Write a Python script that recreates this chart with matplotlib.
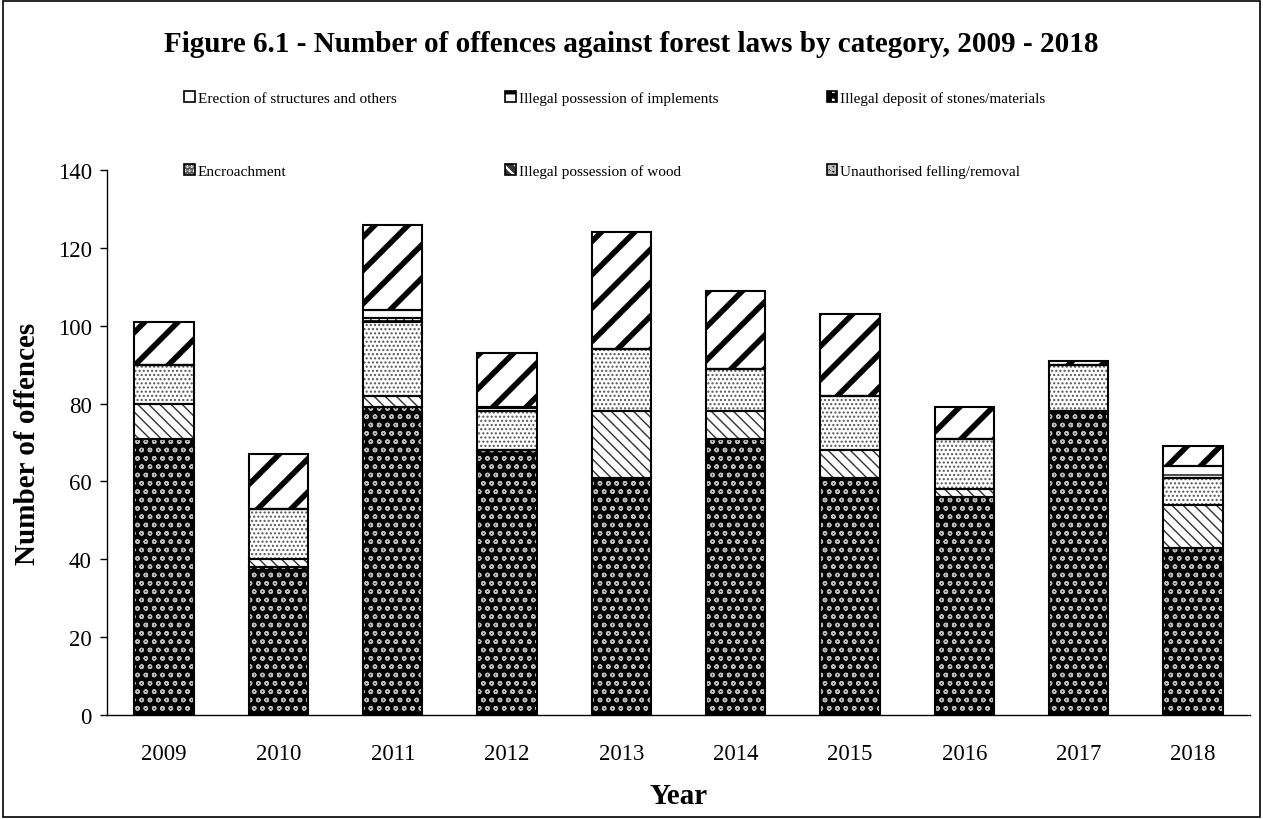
import numpy as np
import matplotlib
matplotlib.use("Agg")
import matplotlib.pyplot as plt
from matplotlib.patches import Rectangle, Patch

plt.rcParams['font.family'] = ['Liberation Serif', 'DejaVu Serif']

years = ['2009', '2010', '2011', '2012', '2013', '2014', '2015', '2016', '2017', '2018']

# stacking order bottom -> top
felling = [71, 38, 79, 68, 61, 71, 61, 56, 78, 43]
wood = [9, 2, 3, 0, 17, 7, 7, 2, 0, 11]
encroachment = [10, 13, 19, 10, 16, 11, 14, 13, 12, 7]
deposit = [0, 0, 1, 0, 0, 0, 0, 0, 0, 0]
implements = [0, 0, 2, 1, 0, 0, 0, 0, 0, 3]
erection = [11, 14, 22, 14, 30, 20, 21, 8, 1, 5]

labels = {
    'felling': 'Unauthorised felling/removal',
    'wood': 'Illegal possession of wood',
    'enc': 'Encroachment',
    'deposit': 'Illegal deposit of stones/materials',
    'impl': 'Illegal possession of implements',
    'erect': 'Erection of structures and others',
}

fig = plt.figure(figsize=(12.63, 8.2), dpi=100)
ax = fig.add_axes([107 / 1263, 1 - 716 / 820, (1250 - 107) / 1263, (716 - 171) / 820])

x = np.arange(len(years))
w = 0.52

# key, values, face, hatch colour, hatch, hatch linewidth
series = [
    ('felling', felling, 'black', '#bbbbbb', 'oo', 1.0),
    ('wood', wood, 'white', '#333333', '\\\\\\', 1.0),
    ('enc', encroachment, 'white', '#555555', '....', 1.0),
    ('deposit', deposit, 'white', 'black', '++', 1.0),
    ('impl', implements, 'white', 'black', '-', 1.0),
    ('erect', erection, 'white', 'black', '/', 4.0),
]

handles = {}
bottom = np.zeros(len(years))
for key, vals, face, hcol, hatch, hlw in series:
    vals = np.array(vals, dtype=float)
    plt.rcParams['hatch.linewidth'] = hlw
    bars = ax.bar(x, vals, w, bottom=bottom, color=face, edgecolor=hcol,
                  hatch=hatch, linewidth=0, zorder=2)
    for b in bars:
        try:
            b.set_hatch_linewidth(hlw)
        except AttributeError:
            pass
    ax.bar(x, vals, w, bottom=bottom, fill=False, edgecolor='black',
           linewidth=1.5, zorder=3)
    h = Patch(facecolor=face, edgecolor='black', hatch=hatch, linewidth=1.2)
    try:
        h.set_hatch_linewidth(min(hlw, 1.5))
    except AttributeError:
        pass
    h._hatch_color = matplotlib.colors.to_rgba(hcol)
    handles[key] = h
    bottom += vals

ax.set_ylim(0, 140)
ax.set_xlim(-0.5, len(years) - 0.5)
ax.set_yticks(range(0, 141, 20))
ax.set_xticks(x)
ax.set_xticklabels(years)
ax.tick_params(axis='both', labelsize=16.5, direction='out', length=5, width=1)
ax.tick_params(axis='y', pad=6)
ax.tick_params(axis='x', length=0, pad=20)
for s in ['top', 'right']:
    ax.spines[s].set_visible(False)
for s in ['left', 'bottom']:
    ax.spines[s].set_linewidth(1.0)

ax.set_ylabel('Number of offences', fontsize=21, fontweight='bold', labelpad=12)
ax.set_xlabel('Year', fontsize=21, fontweight='bold', labelpad=13)

fig.text(0.5, 1 - 45 / 820, 'Figure 6.1 - Number of offences against forest laws by category, 2009 - 2018',
         ha='center', va='center', fontsize=21, fontweight='bold')

order = ['erect', 'enc', 'impl', 'wood', 'deposit', 'felling']
leg = fig.legend([handles[k] for k in order], [labels[k] for k in order],
                 ncol=3, loc='upper left', bbox_to_anchor=(184 / 1263, 1 - 92 / 820),
                 frameon=False, fontsize=11, handlelength=0.7, handleheight=0.7,
                 handletextpad=0.2, labelspacing=3.9, columnspacing=7.1,
                 borderaxespad=0, borderpad=0)

fig.add_artist(Rectangle((0.002, 0.002), 0.996, 0.996, transform=fig.transFigure,
                         fill=False, edgecolor='black', linewidth=1.2))

fig.savefig('out.png', dpi=100)
